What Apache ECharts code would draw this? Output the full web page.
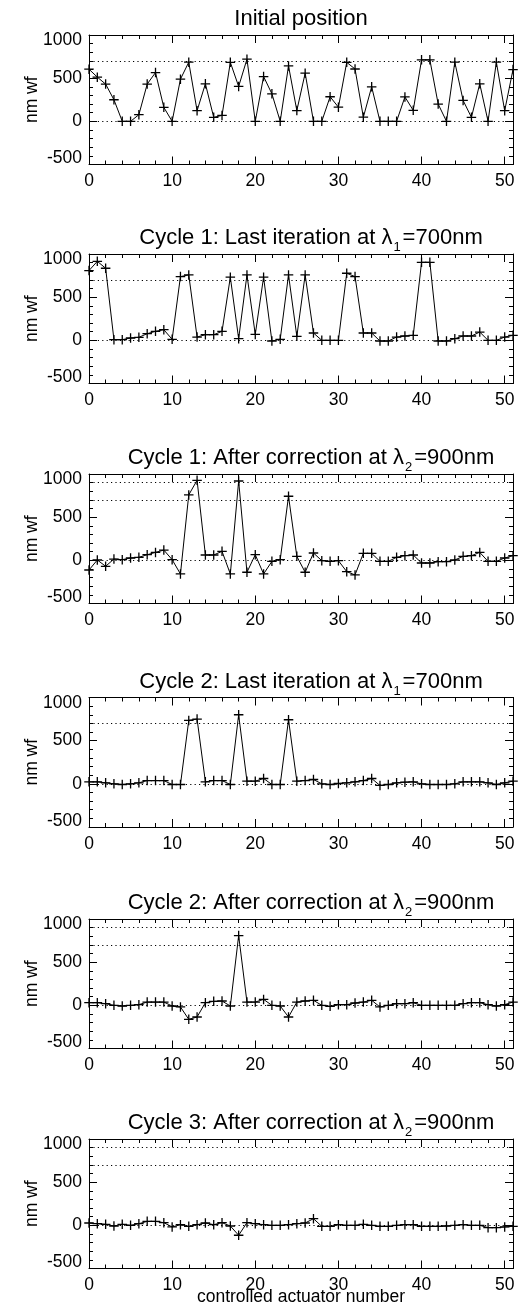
<!DOCTYPE html>
<html>
<head>
<meta charset="utf-8">
<script src="https://cdn.jsdelivr.net/npm/echarts@6/dist/echarts.min.js"></script>
<style>
  html, body { margin: 0; padding: 0; background: #ffffff; }
  #chart { width: 519px; height: 1316px; }
</style>
</head>
<body>
<div id="chart"></div>
<script>
// Controlled actuator numbers along the x axis
const actuatorNumbers = [0,1,2,3,4,5,6,7,8,9,10,11,12,13,14,15,16,17,18,19,20,21,22,23,24,25,
  26,27,28,29,30,31,32,33,34,35,36,37,38,39,40,41,42,43,44,45,46,47,48,49,50,51];

// Wavefront per actuator (nm wf) at each stage
const initialPosition = [604,512,431,250,0,0,77,431,565,162,0,488,685,123,435,46,69,683,404,720,
  0,519,319,0,642,125,558,0,0,285,164,683,606,48,400,0,0,0,283,127,712,712,200,0,685,242,46,435,0,685,123,600];
const cycle1Last700 = [808,915,835,8,8,27,35,77,104,123,12,738,758,38,65,65,104,731,19,758,
  69,731,-8,12,758,46,758,85,0,0,0,777,738,85,85,-8,-8,38,50,58,904,904,-8,-8,19,50,50,96,0,0,38,58];
const cycle1After900 = [-112,4,-69,15,8,27,35,65,92,119,8,-158,758,927,62,62,104,-158,919,-138,
  65,-158,-12,8,742,46,-138,85,-4,-12,-4,-131,-169,81,81,-12,-12,35,54,62,-31,-31,-15,-15,4,46,54,92,-12,-12,27,54];
const cycle2Last700 = [23,23,12,0,-8,0,12,38,38,38,-8,-8,735,750,23,38,38,-8,800,31,
  31,62,-8,-8,742,31,38,50,0,-8,4,12,23,38,62,-19,-8,12,19,23,0,-8,-8,-8,0,23,23,23,12,-8,12,31];
const cycle2After900 = [31,31,19,0,-8,0,8,38,38,38,-8,-19,-162,-135,31,46,50,-8,808,38,
  38,69,0,-8,-135,38,50,58,0,-12,8,8,27,38,58,-19,0,19,19,31,0,0,0,0,0,19,31,31,8,-8,8,38];
const cycle3After900 = [27,19,12,-8,12,0,19,46,46,31,-19,8,-12,8,27,8,31,-8,-115,31,
  19,8,0,0,8,19,27,77,-12,-12,8,0,0,12,0,-12,-12,0,8,8,-12,-12,-12,-8,0,8,0,0,-27,-27,-19,-12];

// Dotted reference levels: zero, lambda1 = 700 nm, lambda2 = 900 nm
const levelsLambda1 = [0, 700];
const levelsLambda1Lambda2 = [0, 700, 900];

// Axis ticks
const xTickValues = [0, 10, 20, 30, 40, 50];
const yTickValues = [-500, 0, 500, 1000];

// Panel titles: [text before subscript, subscript, text after subscript]
const panelTitles = [
  ['Initial position', '', ''],
  ['Cycle 1: Last iteration at \u03bb', '1', '=700nm'],
  ['Cycle 1: After correction at \u03bb', '2', '=900nm'],
  ['Cycle 2: Last iteration at \u03bb', '1', '=700nm'],
  ['Cycle 2: After correction at \u03bb', '2', '=900nm'],
  ['Cycle 3: After correction at \u03bb', '2', '=900nm']
];
const panelSeries = [initialPosition, cycle1Last700, cycle1After900, cycle2Last700, cycle2After900, cycle3After900];
const panelLevels = [levelsLambda1, levelsLambda1, levelsLambda1Lambda2, levelsLambda1, levelsLambda1Lambda2, levelsLambda1Lambda2];

const FONT = '"Liberation Sans", Arial, Helvetica, sans-serif';
const gridTops = [35, 254, 474, 697.5, 919, 1139];
const gridLeft = 89, gridWidth = 424, gridHeight = 129.5;
const xMin = 0, xMax = 51, yMin = -500, yMax = 1000;
const labelSize = 17.5, titleSize = 22;

const crossSymbol = 'path://M0,5L10,5M5,0L5,10';

const grids = [], xAxes = [], yAxes = [], series = [], titles = [];

panelSeries.forEach((values, p) => {
  grids.push({ left: gridLeft, top: gridTops[p], width: gridWidth, height: gridHeight, containLabel: false });

  const tickCommon = {
    axisLine: { show: true, onZero: false, lineStyle: { color: '#000', width: 1 } },
    axisTick: { show: true, inside: true, length: 8, lineStyle: { color: '#000', width: 1 } },
    minorTick: { show: true, splitNumber: 5, length: 4, lineStyle: { color: '#000', width: 1 } },
    splitLine: { show: false },
    minorSplitLine: { show: false }
  };

  // bottom x axis with labels
  xAxes.push(Object.assign({
    type: 'value', gridIndex: p, position: 'bottom', min: xMin, max: xMax, interval: 10,
    axisLabel: {
      show: true, color: '#000', fontFamily: FONT, fontSize: labelSize, margin: 8,
      showMaxLabel: false,
      formatter: v => (xTickValues.indexOf(v) >= 0 ? String(v) : '')
    },
    name: p === panelSeries.length - 1 ? 'controlled actuator number' : '',
    nameLocation: 'middle', nameGap: 20, nameMoveOverlap: false,
    nameTextStyle: { color: '#000', fontFamily: FONT, fontSize: labelSize }
  }, tickCommon));
  // mirrored top x axis (ticks only)
  xAxes.push(Object.assign({
    type: 'value', gridIndex: p, position: 'top', min: xMin, max: xMax, interval: 10,
    axisLabel: { show: false }
  }, tickCommon));

  // left y axis with labels
  yAxes.push(Object.assign({
    type: 'value', gridIndex: p, position: 'left', min: yMin, max: yMax, interval: 500,
    axisLabel: {
      show: true, color: '#000', fontFamily: FONT, fontSize: labelSize, margin: 7,
      formatter: v => {
        if (yTickValues.indexOf(v) < 0) return '';
        if (v === yMax) return '{hi|' + v + '}';
        if (v === yMin) return '{lo|' + v + '}';
        return String(v);
      },
      rich: {
        hi: { fontFamily: FONT, fontSize: labelSize, color: '#000', padding: [11, 0, 0, 0] },
        lo: { fontFamily: FONT, fontSize: labelSize, color: '#000', padding: [0, 0, 12, 0] }
      }
    },
    name: 'nm wf', nameLocation: 'middle', nameGap: 48, nameRotate: 90, nameMoveOverlap: false,
    nameTextStyle: { color: '#000', fontFamily: FONT, fontSize: labelSize }
  }, tickCommon));
  // mirrored right y axis (ticks only)
  yAxes.push(Object.assign({
    type: 'value', gridIndex: p, position: 'right', min: yMin, max: yMax, interval: 500,
    axisLabel: { show: false }
  }, tickCommon));

  series.push({
    type: 'line',
    xAxisIndex: 2 * p, yAxisIndex: 2 * p,
    data: values.map((v, i) => [actuatorNumbers[i], v]),
    clip: true,
    symbol: crossSymbol, symbolSize: 9.5, showSymbol: true,
    lineStyle: { color: '#000', width: 1 },
    itemStyle: { color: '#000', borderColor: '#000', borderWidth: 1.3 },
    emphasis: { disabled: true },
    silent: true,
    markLine: {
      silent: true, symbol: ['none', 'none'], label: { show: false },
      lineStyle: { color: '#000', width: 1, type: [1.2, 3.2] },
      data: panelLevels[p].map(level => ({ yAxis: level }))
    },
    z: 3
  });

  const t = panelTitles[p];
  const text = t[1] ? '{n|' + t[0] + '}{s|' + t[1] + '}{n|' + t[2] + '}' : '{n|' + t[0] + '}';
  titles.push({
    text: text,
    left: t[1] ? 311 : gridLeft + gridWidth / 2,
    top: gridTops[p] - 27,
    padding: 0,
    textAlign: 'center',
    textVerticalAlign: 'top',
    textStyle: {
      fontWeight: 'normal',
      rich: {
        n: { fontFamily: FONT, fontSize: titleSize, fontWeight: 'normal', color: '#000',
             verticalAlign: 'bottom', padding: [0, 0, 5, 0] },
        s: { fontFamily: FONT, fontSize: 13, fontWeight: 'normal', color: '#000',
             verticalAlign: 'bottom', padding: [0, 2, 0, 1] }
      }
    }
  });
});

const chart = echarts.init(document.getElementById('chart'), null, { renderer: 'canvas' });
chart.setOption({
  animation: false,
  backgroundColor: '#ffffff',
  title: titles,
  grid: grids,
  xAxis: xAxes,
  yAxis: yAxes,
  series: series
});
</script>
</body>
</html>
